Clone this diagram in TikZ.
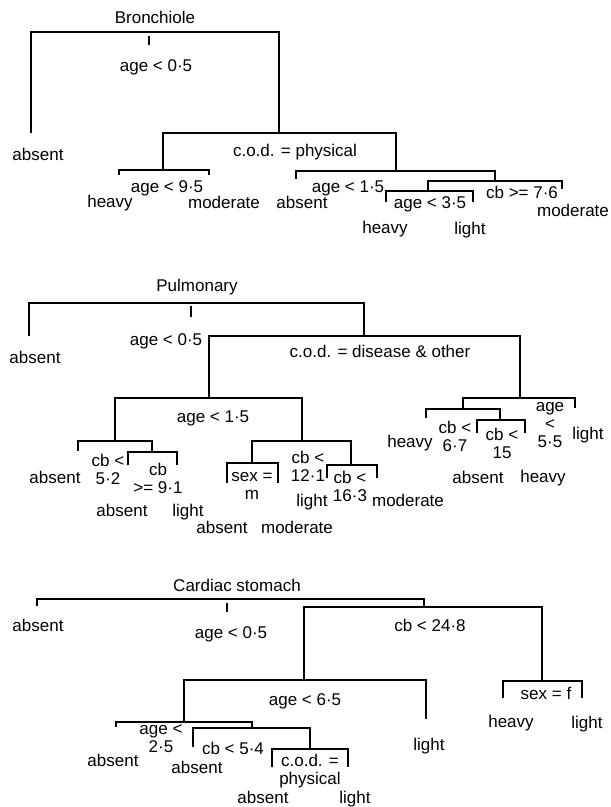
\documentclass[tikz,border=0pt]{standalone}
\usepackage{fontspec}
\setmainfont{Liberation Sans}
\tikzset{
    lbl/.style={
        inner sep=0pt, font=\fontsize{17}{18}\selectfont,
        text height=12pt, text depth=0pt
    },
    lblm/.style={
        inner sep=0pt, font=\fontsize{17}{18}\selectfont,
        align=center
    },
    branch/.style={draw=black, line width=1.2pt}
}

\begin{document}
\begin{tikzpicture}[x=1pt, y=-1pt]
    \useasboundingbox (0,0) rectangle (611,807);

    \node[lbl] (bT) at (155,17) {Bronchiole};
    \node[lbl] (bq0) at (156,65) {age < 0·5};
    \node[lbl] (bq1) at (295,150) {c.o.d. = physical};
    \node[lbl] (bq2) at (167,186) {age < 9·5};
    \node[lbl] (bq3) at (348,186) {age < 1·5};
    \node[lbl] (bq4) at (522,192) {cb >= 7·6};
    \node[lbl] (bq5) at (430,202) {age < 3·5};
    \node[lbl] (ba1) at (38,154) {absent};
    \node[lbl] (ba2) at (110,201) {heavy};
    \node[lbl] (ba3) at (224,202) {moderate};
    \node[lbl] (ba4) at (302,202) {absent};
    \node[lbl] (ba5) at (385,227) {heavy};
    \node[lbl] (ba6) at (470,228) {light};
    \node[lbl] (ba7) at (573,210) {moderate};

    \coordinate (b0) at (155,32);
    \coordinate (bt) at (149,36);
    \coordinate (bf1) at (31,133);
    \coordinate (b1) at (279,133);
    \coordinate (b2) at (163,170);
    \coordinate (bf2) at (119,175);
    \coordinate (bf3) at (209,175);
    \coordinate (b3) at (396,171);
    \coordinate (bf4) at (296,179);
    \coordinate (b4) at (495,181);
    \coordinate (b5) at (428,191);
    \coordinate (bf5) at (386,202);
    \coordinate (bf6) at (473,202);
    \coordinate (bf7) at (562,189);

    \draw[branch] (bt) -- ++(0,9);
    \draw[branch] (bf1) |- (b0) -| (b1);
    \draw[branch] (b2) |- (b1) -| (b3);
    \draw[branch] (bf2) |- (b2) -| (bf3);
    \draw[branch] (bf4) |- (b3) -| (b4);
    \draw[branch] (b5) |- (b4) -| (bf7);
    \draw[branch] (bf5) |- (b5) -| (bf6);

    \node[lbl] (pT) at (197,285) {Pulmonary};
    \node[lbl] (pq0) at (166,339) {age < 0·5};
    \node[lbl] (pq1) at (380,351) {c.o.d. = disease \& other};
    \node[lbl] (pq2) at (213,416) {age < 1·5};
    \node[lblm] (pq3) at (108,469) {cb <\\5·2};
    \node[lblm] (pq4) at (158,478) {cb\\>= 9·1};
    \node[lblm] (pq5) at (308,466) {cb <\\12·1};
    \node[lblm] (pq6) at (252,486) {sex =\\m};
    \node[lblm] (pq7) at (350,486) {cb <\\16·3};
    \node[lblm] (pq8) at (550,425) {age\\<\\5·5};
    \node[lblm] (pq9) at (455,436) {cb <\\6·7};
    \node[lblm] (pq10) at (502,443) {cb <\\15};
    \node[lbl] (pa1) at (35,357) {absent};
    \node[lbl] (pa2) at (55,477) {absent};
    \node[lbl] (pa3) at (122,510) {absent};
    \node[lbl] (pa4) at (188,510) {light};
    \node[lbl] (pa5) at (222,527) {absent};
    \node[lbl] (pa6) at (297,527) {moderate};
    \node[lbl] (pa7) at (312,500) {light};
    \node[lbl] (pa8) at (408,500) {moderate};
    \node[lbl] (pa9) at (410,441) {heavy};
    \node[lbl] (pa10) at (478,477) {absent};
    \node[lbl] (pa11) at (543,476) {heavy};
    \node[lbl] (pa12) at (588,433) {light};

    \coordinate (p0) at (191,303);
    \coordinate (pt) at (191,306);
    \coordinate (pf1) at (29,336);
    \coordinate (p1) at (364,336);
    \coordinate (p2) at (209,398);
    \coordinate (p3) at (115,441);
    \coordinate (pf2) at (78,451);
    \coordinate (p4) at (152,452);
    \coordinate (pf3) at (128,465);
    \coordinate (pf4) at (177,465);
    \coordinate (p5) at (302,441);
    \coordinate (p6) at (252,463);
    \coordinate (pf5) at (227,483);
    \coordinate (pf6) at (278,483);
    \coordinate (p7) at (351,465);
    \coordinate (pf7) at (327,478);
    \coordinate (pf8) at (377,478);
    \coordinate (p8) at (520,398);
    \coordinate (pf9) at (575,408);
    \coordinate (p9) at (463,409);
    \coordinate (pf10) at (426,418);
    \coordinate (p10) at (500,420);
    \coordinate (pf11) at (477,433);
    \coordinate (pf12) at (525,433);

    \draw[branch] (pt) -- ++(0,11);
    \draw[branch] (pf1) |- (p0) -| (p1);
    \draw[branch] (p2) |- (p1) -| (p8);
    \draw[branch] (p3) |- (p2) -| (p5);
    \draw[branch] (pf2) |- (p3) -| (p4);
    \draw[branch] (pf3) |- (p4) -| (pf4);
    \draw[branch] (p6) |- (p5) -| (p7);
    \draw[branch] (pf5) |- (p6) -| (pf6);
    \draw[branch] (pf7) |- (p7) -| (pf8);
    \draw[branch] (p9) |- (p8) -| (pf9);
    \draw[branch] (pf10) |- (p9) -| (p10);
    \draw[branch] (pf11) |- (p10) -| (pf12);

    \node[lbl] (cT) at (237,585) {Cardiac stomach};
    \node[lbl] (cq0) at (231,632) {age < 0·5};
    \node[lbl] (cq1) at (430,625) {cb < 24·8};
    \node[lbl] (cq2) at (305,699) {age < 6·5};
    \node[lbl] (cq3) at (546,693) {sex = f};
    \node[lblm] (cq4) at (161,739) {age <\\2·5};
    \node[lbl] (cq5) at (233,748) {cb < 5·4};
    \node[lblm] (cq6) at (310,771) {c.o.d. =\\physical};
    \node[lbl] (ca1) at (38,625) {absent};
    \node[lbl] (ca2) at (511,721) {heavy};
    \node[lbl] (ca3) at (587,722) {light};
    \node[lbl] (ca4) at (429,744) {light};
    \node[lbl] (ca5) at (113,760) {absent};
    \node[lbl] (ca6) at (197,767) {absent};
    \node[lbl] (ca7) at (263,797) {absent};
    \node[lbl] (ca8) at (355,797) {light};

    \coordinate (c0) at (227,599);
    \coordinate (ct) at (227,603);
    \coordinate (cf1) at (37,606);
    \coordinate (c1) at (424,607);
    \coordinate (c2) at (304,680);
    \coordinate (c3) at (184,722);
    \coordinate (cf2) at (116,727);
    \coordinate (c4) at (252,728);
    \coordinate (cf3) at (193,747);
    \coordinate (c5) at (310,749);
    \coordinate (cf4) at (272,767);
    \coordinate (cf5) at (348,767);
    \coordinate (cf6) at (426,719);
    \coordinate (c6) at (542,681);
    \coordinate (cf7) at (503,698);
    \coordinate (cf8) at (582,698);

    \draw[branch] (ct) -- ++(0,9);
    \draw[branch] (cf1) |- (c0) -| (c1);
    \draw[branch] (c2) |- (c1) -| (c6);
    \draw[branch] (c3) |- (c2) -| (cf6);
    \draw[branch] (cf2) |- (c3) -| (c4);
    \draw[branch] (cf3) |- (c4) -| (c5);
    \draw[branch] (cf4) |- (c5) -| (cf5);
    \draw[branch] (cf7) |- (c6) -| (cf8);
\end{tikzpicture}
\end{document}
